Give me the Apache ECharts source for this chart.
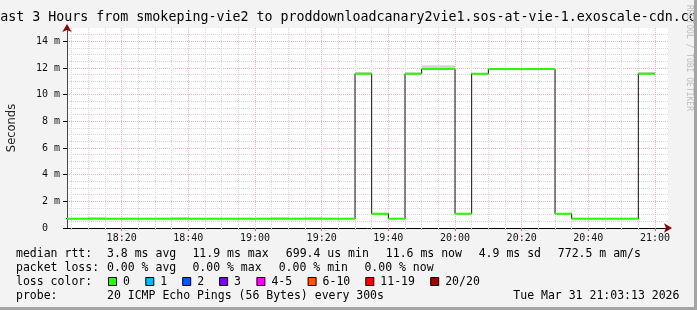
<!DOCTYPE html>
<html><head><meta charset="utf-8">
<script src="https://cdn.jsdelivr.net/npm/echarts@6/dist/echarts.min.js"></script>
<style>html,body{margin:0;padding:0;background:#f3f3f3}#c{width:697px;height:310px}</style>
</head><body><div id="c"></div>
<script>
// ---------- data ----------
const titleText = 'Last 3 Hours from smokeping-vie2 to proddownloadcanary2vie1.sos-at-vie-1.exoscale-cdn.com';
const stepMinutes = 5; // 300 s
const intervalEnds = ['18:05','18:10','18:15','18:20','18:25','18:30','18:35','18:40','18:45','18:50','18:55','19:00',
  '19:05','19:10','19:15','19:20','19:25','19:30','19:35','19:40','19:45','19:50','19:55','20:00',
  '20:05','20:10','20:15','20:20','20:25','20:30','20:35','20:40','20:45','20:50','20:55','21:00'];
const medianMs = [0.70,0.70,0.70,0.70,0.70,0.70,0.70,0.70,0.70,0.70,0.70,0.70,
  0.70,0.70,0.70,0.70,0.70,0.70,11.57,1.07,0.70,11.57,11.92,11.92,
  1.07,11.57,11.92,11.92,11.92,11.92,1.07,0.70,0.70,0.70,0.70,11.57];
const smokeHiMs = [null,null,0.80,null,null,null,null,0.80,null,null,null,null,
  null,0.80,null,0.80,null,null,11.70,null,null,11.68,12.20,12.20,
  null,null,null,null,null,null,null,null,null,null,null,11.70];
const lossCount = [0,0,0,0,0,0,0,0,0,0,0,0,0,0,0,0,0,0,0,0,0,0,0,0,0,0,0,0,0,0,0,0,0,0,0,0];
const xTickLabels = ['18:20','18:40','19:00','19:20','19:40','20:00','20:20','20:40','21:00'];
const xAxisStart = '18:03:36', xAxisEnd = '21:03:54';
const yTickValues = [0,2,4,6,8,10,12,14];
const yMax = 15;
const lossLabels = ['0','1','2','3','4-5','6-10','11-19','20/20'];
const lossColors = ['#26ff00','#00b8ff','#0059ff','#7e00ff','#ff00ff','#ff5500','#ff0000','#a10000'];
const lossUpper = [0,1,2,3,5,10,19,20];
const rttStats = ['3.8 ms avg','11.9 ms max','699.4 us min','11.6 ms now','4.9 ms sd','772.5 m am/s'];
const lossStats = ['0.00 % avg','0.00 % max','0.00 % min','0.00 % now'];
const probeText = '20 ICMP Echo Pings (56 Bytes) every 300s';
const dateText = 'Tue Mar 31 21:03:13 2026';

// ---------- helpers ----------
function toMin(s){ const p=s.split(':').map(Number); return (p[0]-18)*60+p[1]+(p[2]||0)/60; }
function fmtMin(v){ const t=Math.round(v); const h=18+Math.floor(t/60), m=t%60; return h+':'+(m<10?'0':'')+m; }
function lossColor(n){ for(let i=0;i<lossUpper.length;i++){ if(n<=lossUpper[i]) return lossColors[i]; } return lossColors[lossColors.length-1]; }

const ends = intervalEnds.map(toMin);
const segData = ends.map((t,i)=>[t, medianMs[i], lossCount[i]]);
const stepData = [[ends[0]-stepMinutes, medianMs[0]]].concat(ends.map((t,i)=>[t, medianMs[i]]));
const smokeData = ends.map((t,i)=>[t, medianMs[i], smokeHiMs[i]==null?medianMs[i]:smokeHiMs[i]]);

const MONO = 'DejaVu Sans Mono';
const xMin = toMin(xAxisStart), xMax = toMin(xAxisEnd);
const minorX = ends.slice();
const majorX = xTickLabels.map(toMin);

const GRAY='#d6d6d6', RED='#f2b4b4';

const chart = echarts.init(document.getElementById('c'), null, {renderer:'canvas'});

// legend / stats texts
const fs = 11.5;
const gtext = (x,y,t,extra)=>Object.assign({type:'text', x:x, y:y, style:{text:t, font: fs+'px "'+MONO+'"', fill:'#000', textVerticalAlign:'middle'}, z:10}, extra||{});
const L1=254, L2=268, L3=282, L4=296;
const rttX=[107,192.4,285.8,385.8,478.7,557.8];
const lossX=[107,192.4,278.7,364.4];
const boxX=[108,145.3,182.2,219.1,256.4,307.6,365.3,430.2];
const graphics = [
  {type:'rect', shape:{x:694,y:0,width:3,height:310}, style:{fill:'#a4a4a4'}, z:10},
  {type:'rect', shape:{x:0,y:307,width:697,height:3}, style:{fill:'#a4a4a4'}, z:10},
  {type:'text', x:689, y:5, rotation:-Math.PI/2, style:{text:'RRDTOOL / TOBI OETIKER', font:'8px "'+MONO+'"', fill:'#bdbdbd', textVerticalAlign:'middle'}, z:10},
  gtext(16,L1,'median rtt:'), gtext(16,L2,'packet loss:'), gtext(16,L3,'loss color:'), gtext(16,L4,'probe:'),
  gtext(107,L4,probeText), gtext(513.3,L4,dateText)
];
rttStats.forEach((s,i)=>graphics.push(gtext(rttX[i],L1,s)));
lossStats.forEach((s,i)=>graphics.push(gtext(lossX[i],L2,s)));
lossLabels.forEach((s,i)=>{
  graphics.push({type:'rect', shape:{x:boxX[i]+0.5,y:277.5,width:8,height:8}, style:{fill:lossColors[i], stroke:'#000', lineWidth:1}, z:10});
  graphics.push(gtext(boxX[i]+15,L3,s));
});

const option = {
  animation:false,
  backgroundColor:'#f3f3f3',
  title:{text:titleText, left:'center', top:11, padding:0, textStyle:{fontFamily:MONO, fontSize:13.3, fontWeight:'normal', color:'#000'}},
  grid:{left:67, right:29, top:28, bottom:82, show:true, backgroundColor:'#ffffff', borderWidth:0, containLabel:false, outerBoundsMode:'none'},
  xAxis:[{
    type:'value', min:xMin, max:xMax, position:'bottom',
    axisLine:{show:true, lineStyle:{color:'#000', width:1}},
    axisTick:{show:true, customValues:minorX, length:2, lineStyle:{color:'#c0c0c0'}},
    axisLabel:{customValues:majorX, formatter:fmtMin, fontFamily:MONO, fontSize:10, color:'#111', margin:5},
    splitLine:{show:true, lineStyle:{color:[GRAY,GRAY,GRAY,RED], type:[1,1], width:1}}
  },{
    type:'value', min:xMin, max:xMax, position:'bottom',
    axisLine:{show:true, symbol:['none','arrow'], symbolSize:[7,8], symbolOffset:[0,4], lineStyle:{color:'#8b0000', width:0}},
    axisTick:{show:true, customValues:majorX, length:3, lineStyle:{color:'#e06060'}},
    axisLabel:{show:false}, splitLine:{show:false}
  }],
  yAxis:[{
    type:'value', min:0, max:yMax, interval:0.5,
    name:'Seconds', nameLocation:'middle', nameGap:49, nameRotate:90,
    nameTextStyle:{fontFamily:'DejaVu Sans', fontSize:11.5, color:'#222'},
    axisLine:{show:true, lineStyle:{color:'#444', width:1}},
    axisTick:{show:false},
    axisLabel:{fontFamily:MONO, fontSize:10, color:'#111', margin:7,
      formatter:function(v){ if(yTickValues.indexOf(v)<0) return ''; return v===0?'0  ':(v+' m'); }},
    splitLine:{show:true, showMaxLine:false, lineStyle:{color:[RED,GRAY,GRAY,GRAY], type:[1,1], width:1}}
  },{
    type:'value', min:0, max:yMax, position:'left',
    axisLine:{show:true, symbol:['none','arrow'], symbolSize:[7,8], symbolOffset:[0,4], lineStyle:{color:'#8b0000', width:0}},
    axisTick:{show:true, customValues:yTickValues, length:4, lineStyle:{color:'#000'}},
    axisLabel:{show:false}, splitLine:{show:false}
  }],
  graphic:graphics,
  series:[
    { type:'custom', name:'smoke', xAxisIndex:0, yAxisIndex:0, z:1, data:smokeData,
      renderItem:function(params, api){
        const t=api.value(0), lo=api.value(1), hi=api.value(2);
        if (!(hi>lo)) return;
        const a=api.coord([t-stepMinutes, hi]), b=api.coord([t, lo]);
        const r=echarts.graphic.clipRectByRect({x:a[0], y:a[1], width:b[0]-a[0], height:b[1]-a[1]}, params.coordSys);
        if(!r) return;
        return {type:'rect', shape:r, style:{fill:'#d2d2d2'}};
      }},
    { type:'line', name:'median', xAxisIndex:0, yAxisIndex:0, z:2, data:stepData, step:'start', showSymbol:false, symbol:'none',
      lineStyle:{color:'#111', width:1}},
    { type:'custom', name:'loss', xAxisIndex:0, yAxisIndex:0, z:3, data:segData,
      renderItem:function(params, api){
        const t=api.value(0), v=api.value(1), n=api.value(2);
        const a=api.coord([t-stepMinutes, v]), b=api.coord([t, v]);
        const r=echarts.graphic.clipRectByRect({x:a[0], y:a[1]-1, width:b[0]-a[0], height:2}, params.coordSys);
        if(!r) return;
        return {type:'rect', shape:r, style:{fill:lossColor(n)}};
      }}
  ]
};
chart.setOption(option);
</script>
</body></html>
